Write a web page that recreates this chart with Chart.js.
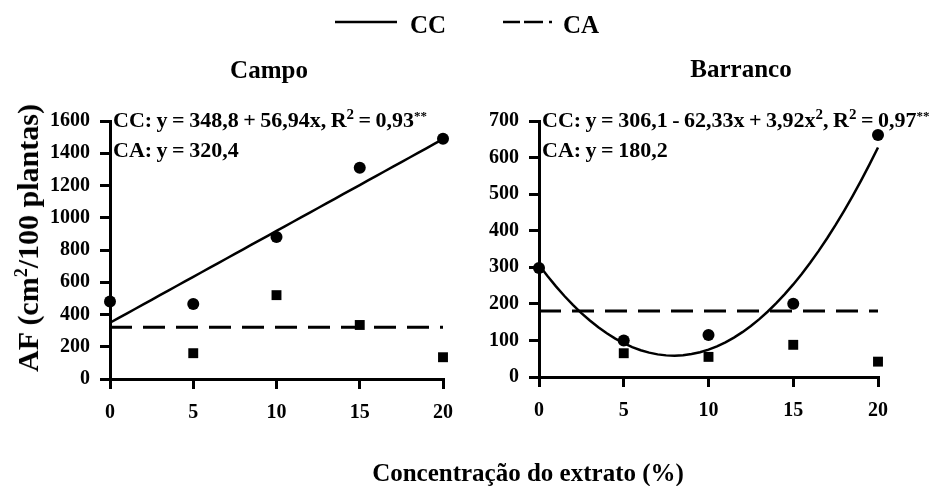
<!DOCTYPE html>
<html>
<head>
<meta charset="utf-8">
<script src="https://cdn.jsdelivr.net/npm/chart.js@4/dist/chart.umd.min.js"></script>
<style>
  html, body { margin: 0; padding: 0; background: #fff; }
  #wrap { position: relative; width: 930px; height: 486px; overflow: hidden;
          font-family: 'Liberation Serif', 'Times New Roman', serif; font-weight: bold; color: #000; }
  .pane { position: absolute; top: 0; width: 465px; height: 486px; }
  canvas { display: block; }
  .t { position: absolute; white-space: nowrap; line-height: 1; z-index: 2; }
  .eq { font-size: 22px; word-spacing: -1px; }
  .sup { font-size: 15px; position: relative; top: -8px; }
  .stars { font-size: 13px; position: relative; top: -7px; }
</style>
</head>
<body>
<div id="wrap">
  <div class="pane" style="left:0"><canvas id="campo" width="465" height="486"></canvas></div>
  <div class="pane" style="left:465px"><canvas id="barranco" width="465" height="486"></canvas></div>

  <!-- shared legend -->
  <svg class="t" style="left:335px;top:18px" width="64" height="8"><line x1="0" y1="4" x2="62" y2="4" stroke="#000" stroke-width="2.5"/></svg>
  <div class="t" style="left:410px;top:12px;font-size:25px">CC</div>
  <svg class="t" style="left:503px;top:18px" width="52" height="8">
    <line x1="0" y1="4" x2="17" y2="4" stroke="#000" stroke-width="2.5"/>
    <line x1="21" y1="4" x2="40" y2="4" stroke="#000" stroke-width="2.5"/>
    <line x1="46" y1="4" x2="49" y2="4" stroke="#000" stroke-width="2.5"/>
  </svg>
  <div class="t" style="left:563px;top:12px;font-size:25px">CA</div>

  <!-- panel titles -->
  <div class="t" style="left:269px;top:57px;font-size:25px;transform:translateX(-50%)">Campo</div>
  <div class="t" style="left:741px;top:56px;font-size:25px;transform:translateX(-50%)">Barranco</div>

  <!-- regression equations -->
  <div class="t eq" style="left:113px;top:109px">CC: y = 348,8 + 56,94x, R<span class="sup">2</span> = 0,93<span class="stars">**</span></div>
  <div class="t eq" style="left:113px;top:139px">CA: y = 320,4</div>
  <div class="t eq" style="left:542px;top:109px">CC: y = 306,1 - 62,33x + 3,92x<span class="sup">2</span>, R<span class="sup">2</span> = 0,97<span class="stars">**</span></div>
  <div class="t eq" style="left:542px;top:139px">CA: y = 180,2</div>

  <!-- axis titles -->
  <div class="t" style="left:28px;top:238px;font-size:30px;transform:translate(-50%,-50%) rotate(-90deg)">AF (cm<span class="sup" style="font-size:18px;top:-11px">2</span>/100 plantas)</div>
  <div class="t" style="left:528px;top:472px;font-size:25px;transform:translate(-50%,-50%)">Concentração do extrato (%)</div>
</div>

<script>
// Leaf area (AF) by extract concentration, two sites
const concentrations = [0, 5, 10, 15, 20];
const campoCC = [480, 465, 880, 1310, 1490];
const campoCA = [null, 160, 520, 335, 135];
const barrancoCC = [298, 100, 115, 200, 662];
const barrancoCA = [null, 65, 55, 88, 42];

// Fitted models (coefficients of y = b0 + b1*x + b2*x^2)
const campoFitCC = [348.8, 56.94];
const campoFitCA = 320.4;
const barrancoFitCC = [306.1, -62.33, 3.92];
const barrancoFitCA = 180.2;

// Axis ranges: [min, max, step]
const xRange = [0, 20, 5];
const campoYRange = [0, 1600, 200];
const barrancoYRange = [0, 700, 100];

const FONT = "'Liberation Serif', 'Times New Roman', serif";

function toPoints(values) {
  return concentrations
    .map((x, i) => ({ x: x, y: values[i] }))
    .filter(p => p.y !== null);
}

function fitCurve(coef) {
  const pts = [];
  for (let x = xRange[0]; x <= xRange[1]; x += 0.5) {
    let y = 0;
    coef.forEach((c, i) => { y += c * Math.pow(x, i); });
    pts.push({ x: x, y: y });
  }
  return pts;
}

function flatLine(value) {
  return [{ x: xRange[0], y: value }, { x: xRange[1], y: value }];
}

function axisScales(yRange, yWidth) {
  const tickFont = { family: FONT, weight: 'bold', size: 20 };
  const grid = { drawOnChartArea: false, drawTicks: true, tickLength: 10, lineWidth: 3, color: '#000' };
  const border = { display: true, color: '#000', width: 3 };
  const plain = v => String(v);
  return {
    x: {
      type: 'linear', min: xRange[0], max: xRange[1],
      ticks: { stepSize: xRange[2], font: tickFont, color: '#000', padding: 12, callback: plain },
      grid: grid, border: border,
      afterFit: s => { s.height = 40; }
    },
    y: {
      type: 'linear', min: yRange[0], max: yRange[1],
      ticks: { stepSize: yRange[2], font: tickFont, color: '#000', padding: 10, callback: plain },
      grid: grid, border: border,
      afterFit: s => { s.width = yWidth; }
    }
  };
}

function datasets(cc, ca, ccFit, caFit) {
  return [
    { data: toPoints(cc), showLine: false, pointStyle: 'circle', pointRadius: 6,
      backgroundColor: '#000', borderWidth: 0, clip: false, order: 0 },
    { data: toPoints(ca), showLine: false, pointStyle: 'rect', pointRadius: 7,
      backgroundColor: '#000', borderWidth: 0, clip: false, order: 0 },
    { data: fitCurve(ccFit), showLine: true, pointRadius: 0, borderColor: '#000',
      borderWidth: 2.5, tension: 0, fill: false, clip: false, order: 1 },
    { data: flatLine(caFit), showLine: true, pointRadius: 0, borderColor: '#000',
      borderWidth: 3, borderDash: [22, 11], fill: false, clip: false, order: 1 }
  ];
}

function makeChart(id, cc, ca, ccFit, caFit, yRange, yWidth, padding) {
  return new Chart(document.getElementById(id), {
    type: 'scatter',
    data: { datasets: datasets(cc, ca, ccFit, caFit) },
    options: {
      responsive: false,
      animation: false,
      layout: { padding: padding },
      scales: axisScales(yRange, yWidth),
      plugins: { legend: { display: false }, tooltip: { enabled: false }, title: { display: false } }
    }
  });
}

makeChart('campo', campoCC, campoCA, campoFitCC, campoFitCA, campoYRange, 110,
  { left: 0, top: 121, right: 20, bottom: 67 });
makeChart('barranco', barrancoCC, barrancoCA, barrancoFitCC, barrancoFitCA, barrancoYRange, 74,
  { left: 0, top: 121, right: 52, bottom: 69 });
</script>
</body>
</html>
